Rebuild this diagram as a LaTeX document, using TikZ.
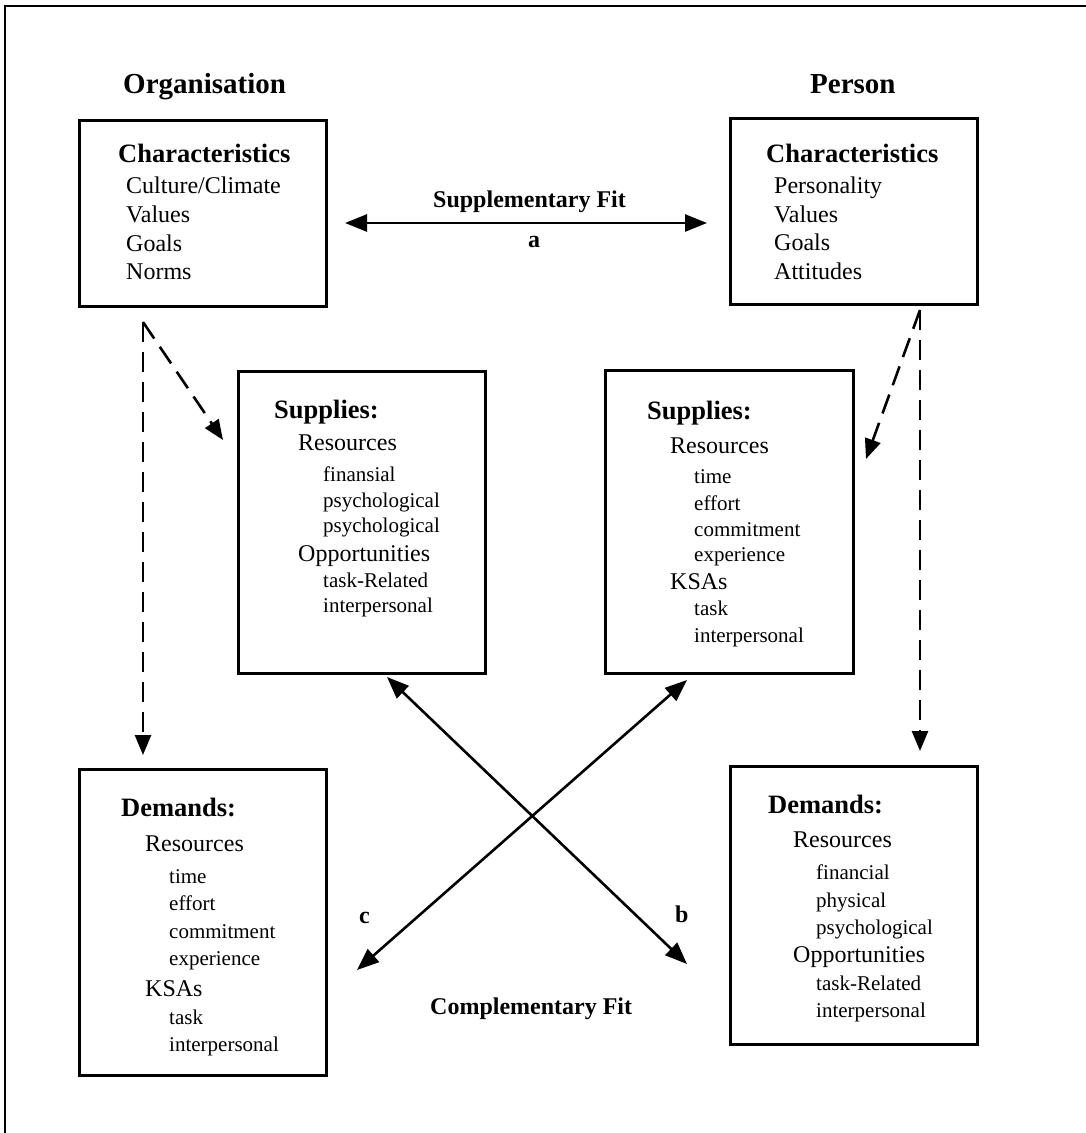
\documentclass[tikz,border=0pt]{standalone}
\usepackage{fontspec}
\setmainfont{Liberation Serif}
\usetikzlibrary{arrows.meta}
\begin{document}
\begin{tikzpicture}[x=1pt,y=-1pt,
 box/.style={draw, line width=3pt, inner sep=0, outer sep=0},
 hd/.style={font=\fontsize{29}{34}\selectfont\bfseries, inner sep=0, anchor=base west},
 ttl/.style={font=\fontsize{26.5}{30}\selectfont\bfseries, inner sep=0, anchor=base west},
 itm/.style={font=\fontsize{24}{28}\selectfont, inner sep=0, anchor=base west},
 sub/.style={font=\fontsize{21}{25}\selectfont, inner sep=0, anchor=base west},
 lbl/.style={font=\fontsize{24}{28}\selectfont\bfseries, inner sep=0, anchor=base west},
 fitarrow/.style={line width=2.6pt, {Triangle[length=22pt,width=17pt]}-{Triangle[length=22pt,width=17pt]}},
 dsh/.style={line width=2.6pt, dash pattern=on 20pt off 10pt, -{Triangle[length=20pt,width=16pt]}},
]
\useasboundingbox (0,0) rectangle (1086,1133);
% frame
\draw[line width=2.8pt] (5,1140) -- (5,6) -- (1090,6);

% headers
\node[hd] (horg) at (123,93) {Organisation};
\node[hd] (hper) at (810,93) {Person};

% boxes
\node[box, minimum width=247pt, minimum height=186pt] (oc) at (202.5,213) {};
\node[box, minimum width=247pt, minimum height=186pt] (pc) at (853.5,211) {};
\node[box, minimum width=247pt, minimum height=302pt] (sl) at (361.5,522) {};
\node[box, minimum width=248pt, minimum height=303pt] (sr) at (729,521.5) {};
\node[box, minimum width=247pt, minimum height=306pt] (dl) at (202.5,922) {};
\node[box, minimum width=247pt, minimum height=278pt] (dr) at (853.5,905) {};

% organisation characteristics
\node[ttl] (oct) at (118,162) {Characteristics};
\node[itm] (oc1) at (126,193) {Culture/Climate};
\node[itm] (oc2) at (126,222) {Values};
\node[itm] (oc3) at (126,251) {Goals};
\node[itm] (oc4) at (126,279) {Norms};

% person characteristics
\node[ttl] (pct) at (766,162) {Characteristics};
\node[itm] (pc1) at (774,193) {Personality};
\node[itm] (pc2) at (774,222) {Values};
\node[itm] (pc3) at (774,250) {Goals};
\node[itm] (pc4) at (774,279) {Attitudes};

% supplies left
\node[ttl] (slt) at (274,418) {Supplies:};
\node[itm] (sl1) at (298,450) {Resources};
\node[sub] (sl2) at (323,481) {finansial};
\node[sub] (sl3) at (323,507) {psychological};
\node[sub] (sl4) at (323,532) {psychological};
\node[itm] (sl5) at (298,561) {Opportunities};
\node[sub] (sl6) at (323,587) {task-Related};
\node[sub] (sl7) at (323,612) {interpersonal};

% supplies right
\node[ttl] (srt) at (647,419) {Supplies:};
\node[itm] (sr1) at (670,453) {Resources};
\node[sub] (sr2) at (694,483) {time};
\node[sub] (sr3) at (694,510) {effort};
\node[sub] (sr4) at (694,536) {commitment};
\node[sub] (sr5) at (694,561) {experience};
\node[itm] (sr6) at (670,589) {KSAs};
\node[sub] (sr7) at (694,615) {task};
\node[sub] (sr8) at (694,642) {interpersonal};

% demands left
\node[ttl] (dlt) at (121,816) {Demands:};
\node[itm] (dl1) at (145,851) {Resources};
\node[sub] (dl2) at (169,883) {time};
\node[sub] (dl3) at (169,910) {effort};
\node[sub] (dl4) at (169,938) {commitment};
\node[sub] (dl5) at (169,965) {experience};
\node[itm] (dl6) at (145,996) {KSAs};
\node[sub] (dl7) at (169,1024) {task};
\node[sub] (dl8) at (169,1051) {interpersonal};

% demands right
\node[ttl] (drt) at (768,813) {Demands:};
\node[itm] (dr1) at (793,847) {Resources};
\node[sub] (dr2) at (816,879) {financial};
\node[sub] (dr3) at (816,907) {physical};
\node[sub] (dr4) at (816,934) {psychological};
\node[itm] (dr5) at (793,962) {Opportunities};
\node[sub] (dr6) at (816,990) {task-Related};
\node[sub] (dr7) at (816,1017) {interpersonal};

% labels
\node[lbl] (supfit) at (433,207) {Supplementary Fit};
\node[lbl] (la) at (528,247) {a};
\node[lbl] (lb) at (675,922) {b};
\node[lbl] (lc) at (359,923) {c};
\node[lbl] (compfit) at (430,1014) {Complementary Fit};

% connector end points
\coordinate (aL) at (345,223);
\coordinate (aR) at (707,223);
\coordinate (bU) at (387,677);
\coordinate (bD) at (687,964);
\coordinate (cD) at (357,970);
\coordinate (cU) at (687,680);
\coordinate (oApex) at (143,322);
\coordinate (oTipS) at (223,440);
\coordinate (oTipD) at (143,755);
\coordinate (pApex) at (920,310);
\coordinate (pTipS) at (866,459);
\coordinate (pTipD) at (920,751);

% solid arrows
\draw[fitarrow] (aL) -- (aR);
\draw[fitarrow] (bU) -- (bD);
\draw[fitarrow] (cD) -- (cU);

% dashed arrows
\draw[dsh] (oApex) -- (oTipS);
\draw[dsh] (oApex) -- (oTipD);
\draw[dsh] (pApex) -- (pTipS);
\draw[dsh] (pApex) -- (pTipD);
\end{tikzpicture}
\end{document}
